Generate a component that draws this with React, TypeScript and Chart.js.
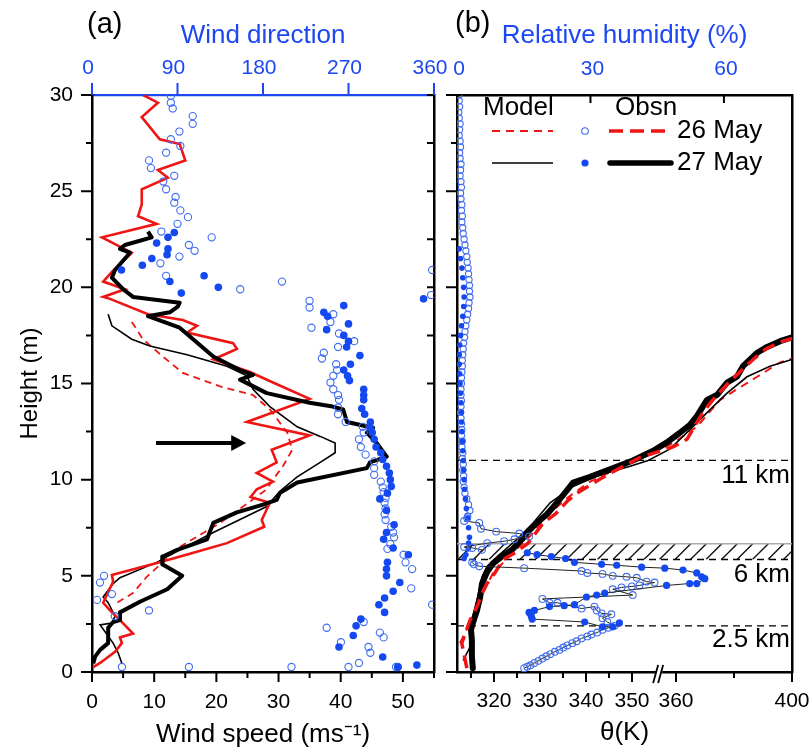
import React, { useEffect, useRef } from 'react';
import { Chart, registerables } from 'chart.js';

Chart.register(...registerables);

const FONT = "'Liberation Sans', Arial, Helvetica, sans-serif";
const BLUE = '#1c47f2';
const BLUE_PT = '#1448f0';
const BLUE_OPEN = '#3f6cf0';
const RED = '#f01515';

// ---------- Panel (a): wind speed (m/s) vs height ----------
const obs26Speed: [number, number][] = [
  [8.2, 30], [10.6, 29.6], [8.0, 28.85], [10.9, 27.7], [14.1, 27.45], [15, 26.6], [10.6, 26.1], [12.2, 25.7],
  [8.0, 25.1], [8.0, 24.3], [7.4, 23.7], [10.4, 23.3], [1.6, 22.6], [6.4, 21.8], [3.2, 20.8], [1.8, 20.3],
  [5.3, 19.9], [1.8, 19.5], [2.9, 19.4], [9.0, 18.6], [14.6, 18.3], [16.9, 18.0], [15.3, 17.65], [22.7, 17.1],
  [23.3, 16.8], [19.5, 16.25], [25.4, 15.6], [29.1, 15.05], [35.0, 14.2], [24.9, 13.0], [35.0, 12.3], [28.9, 11.55],
  [29.7, 10.9], [26.5, 10.35], [29.1, 9.9], [26.5, 9.5], [25.5, 9.1], [28.6, 8.8], [27.3, 7.9], [27.7, 7.55],
  [21.7, 6.7], [16.3, 6.2], [10.9, 5.7], [3.2, 5.05], [3.4, 4.7], [1.8, 3.6], [2.9, 3.2], [4.5, 2.7],
  [6.6, 2.0], [4.5, 1.8], [4.8, 1.5], [3.7, 1.05], [1.3, 0.47], [0.2, 0.25]
];
const obs27Speed: [number, number][] = [
  [9.0, 22.9], [9.6, 22.6], [5.3, 22.2], [4.5, 22.0], [6.1, 21.8], [5.3, 21.5], [3.7, 20.9], [3.2, 20.5],
  [5.0, 19.9], [6.6, 19.5], [14.1, 19.2], [13.8, 19.0], [12.5, 18.7], [9.0, 18.5], [14.1, 17.9], [19.5, 16.4],
  [23.8, 15.7], [25.9, 15.45], [23.8, 15.2], [28.1, 14.5], [35.0, 14.0], [38.7, 13.8], [40.4, 13.65], [41.0, 13.0],
  [45.2, 12.7], [44.2, 12.45], [45.8, 11.9], [47.4, 11.2], [44.7, 10.9], [44.2, 10.6], [33.0, 9.85], [30.2, 9.3],
  [29.7, 8.95], [27.5, 8.7], [23.3, 8.3], [19.5, 7.75], [18.5, 6.9], [13.7, 6.35], [11.4, 6.0], [11.3, 5.6],
  [14.5, 5.0], [12.1, 4.3], [7.7, 3.65], [4.5, 3.1], [4.5, 2.7], [3.4, 2.6], [2.6, 2.3], [2.6, 1.5],
  [1.3, 1.15], [0.5, 0.8], [0.2, 0.45]
];
const model27Speed: [number, number][] = [
  [2.6, 18.6], [3.2, 18.0], [6.4, 17.3], [9.3, 16.95], [15.3, 16.5], [21.7, 15.9], [24.9, 15.4], [25.9, 14.7],
  [28.6, 13.8], [33.0, 12.75], [36.7, 12.25], [39.1, 11.9], [39.1, 11.4], [36.7, 10.9], [33.0, 10.15], [30.2, 9.4],
  [28.1, 8.6], [19.5, 7.25], [14.1, 6.35], [10.4, 5.7], [4.5, 4.9], [3.4, 4.6], [1.8, 3.9], [2.6, 3.6],
  [3.7, 2.9], [3.2, 2.55], [1.3, 2.45], [2.3, 2.0], [3.4, 1.5], [4.2, 1.0], [4.8, 0.45]
];
const model26Speed: [number, number][] = [
  [6.4, 18.2], [8.2, 17.3], [11.4, 16.4], [14.6, 15.55], [20.6, 14.85], [25.9, 14.4], [28.6, 13.65], [31.4, 12.45],
  [32.2, 11.55], [30.7, 10.7], [29.1, 10.0], [28.1, 9.5], [24.3, 8.6], [20.6, 7.75], [14.1, 6.5], [8.8, 4.95],
  [6.6, 4.1], [4.0, 3.6]
];
// wind direction (deg) vs height
const dir26: [number, number][] = [
  [83, 29.95], [83, 29.6], [85, 29.3], [106, 28.9], [106, 28.5], [92, 28.1], [83, 27.7], [93, 27.35], [78, 27.0],
  [60, 26.6], [62, 26.2], [86.6, 25.8], [75, 25.5], [78, 25.1], [88, 24.7], [86.6, 24.4], [93, 24.0], [101, 23.65],
  [90, 23.3], [73, 22.9], [126, 22.6], [102, 22.2], [108, 21.9], [92, 21.6], [72, 21.25], [78, 20.6], [156, 19.9],
  [200, 20.3], [229, 19.3], [358, 20.9], [357, 19.6], [229, 18.95], [254, 18.6], [251, 18.2], [231, 17.9], [260, 17.6],
  [276, 17.2], [259, 16.9], [244, 16.6], [242, 16.3], [257, 16.0], [258, 15.7], [254, 15.4], [251, 15.05], [254, 14.7],
  [259, 14.4], [260, 14.15], [259, 13.75], [259, 13.4], [267, 13.0], [285, 12.75], [286, 12.45], [281, 12.1], [283, 11.7],
  [288, 11.3], [297, 10.95], [297, 10.6], [297, 10.25], [304, 9.9], [306, 9.6], [307, 9.35], [309, 9.05], [308, 8.8],
  [309, 8.5], [308, 8.2], [309, 7.9], [315, 7.55], [317, 7.25], [318, 7.0], [314, 6.65], [311, 6.4], [328, 6.1],
  [330, 5.7], [337, 5.35], [336, 4.35], [358, 3.5], [286, 2.6], [247, 2.3], [303, 2.05], [307, 1.8], [262, 1.55],
  [291, 1.3], [293, 1.0], [281, 0.47], [270, 0.26], [322, 0.26], [320, 0.26], [210, 0.26], [102, 0.26], [31.5, 0.26],
  [12.7, 5.0], [8.4, 4.65], [5.3, 3.75], [21, 4.05], [24, 2.9], [60, 3.2]
];
const dir27: [number, number][] = [
  [86.6, 22.85], [80, 22.6], [68, 22.3], [80, 22.0], [79, 21.7], [63, 21.5], [53, 21.15], [31, 20.9], [82, 20.3],
  [118, 20.6], [133, 20.0], [94, 19.7], [265, 19.05], [349, 19.4], [244, 18.7], [248, 18.5], [270, 18.1], [247, 17.8],
  [265, 17.5], [270, 17.2], [268, 16.9], [282, 16.45], [272, 16.0], [265, 15.7], [269, 15.4], [271, 15.15], [286, 14.7],
  [286, 14.4], [286, 14.15], [284, 13.7], [287, 13.4], [293, 13.0], [293, 12.7], [295, 12.45], [297, 12.1], [299, 11.7],
  [304, 11.4], [306, 11.05], [310, 10.7], [313, 10.35], [314, 10.0], [315, 9.65], [311, 9.3], [303, 9.0], [310, 8.4],
  [318, 7.65], [310, 7.25], [307, 6.9], [317, 6.45], [333, 6.1], [311, 5.7], [310, 5.35], [310, 5.0], [324, 4.65],
  [317, 4.2], [308, 3.85], [302, 3.5], [308, 3.1], [283, 2.75], [278, 2.4], [275, 1.9], [260, 1.3], [306, 0.78],
  [342, 0.36], [322, 0.26]
];

// ---------- Panel (b): potential temperature (K) vs height ----------
const obs27Theta: [number, number][] = [
  [315.4, 0.2], [315.2, 0.8], [315.2, 1.65], [315, 2.2], [315.4, 2.55], [316.3, 3.2], [317, 3.9], [317.4, 4.6],
  [318.5, 5.2], [319.8, 5.65], [321.7, 6.0], [323.9, 6.35], [326.1, 6.9], [327.4, 7.3], [329.3, 7.75], [331.5, 8.2],
  [333.7, 8.8], [337.2, 9.85], [340.9, 10.15], [345.9, 10.6], [350.2, 11.0], [354.6, 11.5], [357, 11.95], [361, 12.4],
  [364.8, 12.85], [367.2, 13.3], [370.7, 14.15], [374.1, 14.4], [377.6, 15.05], [381, 15.35], [383.1, 15.9], [388, 16.6],
  [391.4, 16.9], [395.9, 17.2], [400, 17.4]
];
const obs26Theta: [number, number][] = [
  [314.1, 0.2], [313.5, 0.9], [313, 1.5], [314.8, 2.7], [316.5, 3.5], [317.4, 4.1], [318.5, 4.6], [320.2, 5.15],
  [322, 5.85], [324.6, 6.2], [327.4, 6.7], [329.3, 7.3], [330.7, 7.75], [333.3, 8.2], [336, 8.9], [338.7, 9.4],
  [344.6, 10.25], [351.7, 11.15], [359, 11.7], [363.8, 12.1], [369.3, 13.5], [373, 14.2], [377.6, 14.95], [382, 15.6],
  [386.6, 16.25], [391, 16.8], [395.9, 17.15], [400, 17.35]
];
const model27Theta: [number, number][] = [
  [313.3, 0.6], [314.8, 1.3], [314.8, 2.35], [316.3, 3.75], [317.4, 4.95], [318.5, 5.5], [320.7, 6.0], [325, 6.9],
  [328.5, 7.75], [332.2, 8.8], [337.2, 9.65], [343, 10.25], [349.6, 10.7], [353.5, 11.0], [358, 11.6], [364.8, 12.6],
  [372.8, 13.8], [377.6, 14.5], [384.5, 15.35], [392.4, 15.9], [400, 16.25]
];
const model26Theta: [number, number][] = [
  [312.6, 1.5], [315.4, 2.85], [317.6, 4.1], [319.8, 5.15], [324.1, 6.2], [327.8, 7.05], [331.5, 8.1], [335.9, 9.05],
  [340.9, 9.9], [348.9, 10.8], [354.6, 11.4], [359, 11.9], [367.2, 12.75], [375.2, 14.15], [381, 14.7], [388, 15.35],
  [395.9, 16.1], [400, 16.3]
];
// relative humidity (%) vs height
const rh26Column: [number, number][] = [
  [0.4, 30.0], [0.5, 29.7], [0.6, 29.4], [0.4, 29.1], [0.5, 28.8], [0.7, 28.5], [0.6, 28.2], [0.5, 27.9], [0.7, 27.6],
  [0.8, 27.3], [0.6, 27.0], [0.7, 26.7], [0.9, 26.4], [0.8, 26.1], [0.7, 25.8], [0.9, 25.5], [1.0, 25.2], [0.8, 24.9],
  [0.9, 24.6], [1.1, 24.3], [1.0, 24.0], [1.2, 23.7], [1.1, 23.4], [1.3, 23.1], [1.4, 22.8], [1.6, 22.5], [1.8, 22.2],
  [2.0, 21.9], [2.2, 21.6], [2.3, 21.3], [2.5, 21.0], [2.6, 20.7], [2.7, 20.4], [2.8, 20.1], [2.8, 19.8], [2.9, 19.5],
  [2.7, 19.2], [2.6, 18.9], [2.4, 18.6], [2.2, 18.3], [2.0, 18.0], [1.8, 17.7], [1.7, 17.4], [1.5, 17.1], [1.4, 16.8],
  [1.3, 16.5], [1.2, 16.2], [1.2, 15.9], [1.1, 15.6], [1.0, 15.3], [1.0, 15.0], [0.9, 14.7], [0.9, 14.4], [1.0, 14.1],
  [0.9, 13.8], [0.8, 13.5], [0.9, 13.2], [1.0, 12.9], [1.1, 12.6], [1.0, 12.3], [1.2, 12.0], [1.1, 11.7], [1.3, 11.4],
  [1.2, 11.1], [1.4, 10.8], [1.3, 10.5], [1.5, 10.2], [1.4, 9.9], [1.6, 9.6], [1.8, 9.3], [2.2, 9.0], [2.6, 8.7],
  [2.9, 8.4], [2.4, 8.1]
];
const rh26Lower: [number, number][] = [
  [2.3, 8.0], [1.6, 7.85], [5.0, 7.75], [5.4, 7.45], [8.8, 7.3], [14.0, 7.2], [16.2, 7.05], [12.9, 6.9], [10.6, 6.8],
  [6.8, 6.7], [1.6, 6.5], [3.4, 6.45], [5.6, 6.35], [3.4, 5.7], [3.8, 5.6], [5.0, 5.5], [15.1, 5.4], [28.0, 5.25],
  [29.3, 5.15], [32.7, 5.1], [35.0, 5.0], [38.1, 4.95], [40.4, 4.9], [42.6, 4.7], [44.4, 4.65], [41.0, 4.5], [39.3, 4.45],
  [37.0, 4.4], [35.0, 4.3], [39.5, 4.0], [19.2, 3.8], [20.8, 3.6], [22.6, 3.6], [28.0, 3.3], [30.9, 3.4], [31.4, 3.2],
  [32.5, 3.05], [34.7, 3.0], [32.7, 2.8], [33.8, 2.6], [35.4, 2.4], [34.0, 2.3], [32.7, 2.2], [31.5, 2.05], [30.2, 1.95],
  [29.3, 1.85], [28.0, 1.75], [26.9, 1.6], [25.9, 1.5], [24.8, 1.38], [23.9, 1.27], [23.0, 1.15], [22.0, 1.05],
  [21.0, 0.93], [20.1, 0.82], [19.2, 0.7], [18.3, 0.58], [17.4, 0.47], [16.5, 0.35], [15.8, 0.27], [15.1, 0.2]
];
const rh27Column: [number, number][] = [
  [0.5, 22.0], [0.8, 21.5], [1.1, 21.0], [1.3, 20.5], [1.5, 20.0], [1.6, 19.5], [1.5, 19.0], [1.3, 18.5], [1.0, 18.0],
  [0.8, 17.5], [0.6, 17.0], [0.5, 16.5], [0.5, 16.0], [0.6, 15.5], [0.7, 15.0], [0.8, 14.5], [0.9, 14.0], [1.0, 13.5],
  [1.0, 13.0], [1.1, 12.5], [1.2, 12.0], [1.3, 11.5], [1.4, 11.0], [1.5, 10.5], [1.6, 10.0], [1.7, 9.5], [1.9, 9.0],
  [2.1, 8.5], [2.4, 8.0], [2.6, 7.5], [2.8, 7.0], [2.6, 6.7], [2.5, 6.4], [2.0, 6.1], [1.6, 5.9]
];
const rh27Lower: [number, number][] = [
  [15.8, 6.2], [18, 6.1], [21.2, 6.0], [24.4, 5.9], [26.4, 5.7], [32.5, 5.6], [35.9, 5.55], [41.5, 5.45], [46.7, 5.4],
  [50.8, 5.3], [53.9, 5.15], [55, 4.95], [55.7, 4.85], [53.9, 4.6], [52.3, 4.6], [47.1, 4.5], [33.2, 4.1], [31.4, 4.0],
  [29.1, 3.9], [26.4, 3.5], [24.1, 3.45], [20.8, 3.4], [17.4, 3.2], [16.2, 3.1], [16.7, 2.9], [16.9, 2.75], [28.7, 2.6],
  [32.7, 2.35], [35, 2.35], [36.5, 2.55]
];

// ---------- ticks ----------
const speedTicks = [0, 10, 20, 30, 40, 50];
const speedMinor = [5, 15, 25, 35, 45, 55];
const dirTicks = [0, 90, 180, 270, 360];
const heightTicks = [0, 5, 10, 15, 20, 25, 30];
const heightMinor = [2.5, 7.5, 12.5, 17.5, 22.5, 27.5];
const thetaTicks = [315, 320, 325, 330, 335, 340, 345, 350, 360, 380, 400];
const thetaLabels = ['', '320', '', '330', '', '340', '', '350', '360', '', '400'];
const rhTicks = [0, 30, 60];
// reference levels (km) and annotation
const refLevels = [11, 5.85, 2.4];
const refLabels = ['11 km', '6 km', '2.5 km'];
const refLabelHeights = [10.2, 5.05, 1.67];
const hatchBand = [5.85, 6.67];
const arrowFrom: [number, number] = [10.3, 11.9];
const arrowTo: [number, number] = [24.8, 11.9];

// broken theta axis: 312-355.5 K at full scale, 355.5-400 K compressed
function thetaToAxis(t: number): number {
  return t <= 355.5 ? t : 359.565 + (t - 360) * 0.6304;
}
const THETA_MIN = 311.96;
const THETA_MAX = thetaToAxis(400);
const BREAK_AT = 355.9;

const pts = (arr: [number, number][]) => arr.map(([x, y]) => ({ x, y }));
const thetaPts = (arr: [number, number][]) => arr.map(([t, y]) => ({ x: thetaToAxis(t), y }));

function tickH(ctx: any, scale: any, vals: number[], y0: number, len: number, color: string, w: number) {
  ctx.save();
  ctx.strokeStyle = color;
  ctx.lineWidth = w;
  ctx.beginPath();
  for (const v of vals) {
    const x = scale.getPixelForValue(v);
    ctx.moveTo(x, y0);
    ctx.lineTo(x, y0 + len);
  }
  ctx.stroke();
  ctx.restore();
}
function tickV(ctx: any, scale: any, vals: number[], x0: number, len: number, color: string, w: number) {
  ctx.save();
  ctx.strokeStyle = color;
  ctx.lineWidth = w;
  ctx.beginPath();
  for (const v of vals) {
    const y = scale.getPixelForValue(v);
    ctx.moveTo(x0, y);
    ctx.lineTo(x0 + len, y);
  }
  ctx.stroke();
  ctx.restore();
}

const tickFont = { family: FONT, size: 21 };
const titleFont = { family: FONT, size: 26, lineHeight: 1 };

function fixSize(prop: 'width' | 'height', size: number) {
  return (s: any) => {
    s[prop] = size;
    s.paddingLeft = 0;
    s.paddingRight = 0;
    s.paddingTop = 0;
    s.paddingBottom = 0;
  };
}

function baseScale(extra: any) {
  return {
    type: 'linear',
    grid: { display: false, drawTicks: false },
    border: { display: true, color: '#000', width: 2.5 },
    ...extra,
  };
}

export default function App() {
  const refA = useRef<HTMLCanvasElement>(null);
  const refB = useRef<HTMLCanvasElement>(null);

  useEffect(() => {
    const decoA = {
      id: 'decoA',
      afterDraw(chart: any) {
        const { ctx, chartArea: ca, scales } = chart;
        tickH(ctx, scales.x, speedTicks, ca.bottom, 10, '#000', 2);
        tickH(ctx, scales.x, speedMinor, ca.bottom, 6, '#000', 2);
        tickV(ctx, scales.y, heightTicks, ca.left, -11, '#000', 2);
        tickV(ctx, scales.y, heightMinor, ca.left, -6, '#000', 2);
        tickV(ctx, scales.y, heightTicks.concat(heightMinor), ca.right, -7, '#000', 2);
        tickH(ctx, scales.x2, dirTicks, ca.top, -12, BLUE, 2);
        // arrow
        const x0 = scales.x.getPixelForValue(arrowFrom[0]);
        const x1 = scales.x.getPixelForValue(arrowTo[0]);
        const y = scales.y.getPixelForValue(arrowFrom[1]);
        ctx.save();
        ctx.strokeStyle = '#000';
        ctx.fillStyle = '#000';
        ctx.lineWidth = 4;
        ctx.beginPath();
        ctx.moveTo(x0, y);
        ctx.lineTo(x1 - 12, y);
        ctx.stroke();
        ctx.beginPath();
        ctx.moveTo(x1, y);
        ctx.lineTo(x1 - 15, y - 8);
        ctx.lineTo(x1 - 15, y + 8);
        ctx.closePath();
        ctx.fill();
        ctx.font = `29px ${FONT}`;
        ctx.textBaseline = 'middle';
        ctx.textAlign = 'left';
        ctx.fillText('(a)', 87, 25);
        ctx.restore();
      },
    };

    const decoB = {
      id: 'decoB',
      beforeDatasetsDraw(chart: any) {
        const { ctx, chartArea: ca, scales } = chart;
        const yS = scales.y;
        ctx.save();
        const yt = yS.getPixelForValue(hatchBand[1]);
        const yb = yS.getPixelForValue(hatchBand[0]);
        ctx.beginPath();
        ctx.rect(ca.left, yt, ca.right - ca.left, yb - yt);
        ctx.clip();
        ctx.strokeStyle = '#111';
        ctx.lineWidth = 1.4;
        ctx.beginPath();
        for (let x = ca.left - 30; x < ca.right + 30; x += 15.5) {
          ctx.moveTo(x, yb);
          ctx.lineTo(x + (yb - yt), yt);
        }
        ctx.stroke();
        ctx.restore();
        ctx.save();
        ctx.strokeStyle = '#aaaaaa';
        ctx.lineWidth = 1.5;
        ctx.beginPath();
        ctx.moveTo(ca.left, yt);
        ctx.lineTo(ca.right, yt);
        ctx.stroke();
        ctx.setLineDash([7, 5]);
        ctx.strokeStyle = '#000';
        ctx.lineWidth = 1.3;
        ctx.beginPath();
        for (const h of refLevels) {
          const y = yS.getPixelForValue(h);
          ctx.moveTo(ca.left, y);
          ctx.lineTo(ca.right, y);
        }
        ctx.stroke();
        ctx.restore();
      },
      afterDraw(chart: any) {
        const { ctx, chartArea: ca, scales } = chart;
        tickH(ctx, scales.x, thetaTicks.filter((_, i) => thetaLabels[i] !== '').map(thetaToAxis), ca.bottom, 10, '#000', 2);
        tickH(ctx, scales.x, thetaTicks.filter((_, i) => thetaLabels[i] === '').map(thetaToAxis), ca.bottom, 6, '#000', 2);
        tickV(ctx, scales.y, heightTicks, ca.left, -11, '#000', 2);
        tickV(ctx, scales.y, heightMinor, ca.left, -6, '#000', 2);
        tickH(ctx, scales.x2, rhTicks.slice(1), ca.top, 8, '#000', 2);
        // axis break
        const bx = scales.x.getPixelForValue(BREAK_AT);
        ctx.save();
        ctx.fillStyle = '#fff';
        ctx.fillRect(bx - 3, ca.bottom - 3, 6, 6);
        ctx.strokeStyle = '#000';
        ctx.lineWidth = 1.8;
        ctx.beginPath();
        ctx.moveTo(bx - 6, ca.bottom + 11);
        ctx.lineTo(bx - 1, ca.bottom - 7);
        ctx.moveTo(bx - 1, ca.bottom + 11);
        ctx.lineTo(bx + 4, ca.bottom - 7);
        ctx.stroke();
        ctx.restore();
        // level labels
        ctx.save();
        ctx.fillStyle = '#000';
        ctx.font = `26px ${FONT}`;
        ctx.textAlign = 'right';
        ctx.textBaseline = 'middle';
        refLabels.forEach((t, i) => ctx.fillText(t, ca.right - 2, scales.y.getPixelForValue(refLabelHeights[i])));
        // legend
        ctx.textAlign = 'left';
        ctx.fillText('Model', 43, 108);
        ctx.fillText('Obsn', 175, 108);
        ctx.fillText('26 May', 237, 131);
        ctx.fillText('27 May', 237, 163);
        ctx.strokeStyle = RED;
        ctx.lineWidth = 2;
        ctx.setLineDash([8, 6]);
        ctx.beginPath(); ctx.moveTo(52, 131); ctx.lineTo(113, 131); ctx.stroke();
        ctx.lineWidth = 3.5;
        ctx.setLineDash([14, 7]);
        ctx.beginPath(); ctx.moveTo(169, 131); ctx.lineTo(232, 131); ctx.stroke();
        ctx.setLineDash([]);
        ctx.strokeStyle = '#000';
        ctx.lineWidth = 1.6;
        ctx.beginPath(); ctx.moveTo(52, 163); ctx.lineTo(113, 163); ctx.stroke();
        ctx.lineWidth = 5.5;
        ctx.lineCap = 'round';
        ctx.beginPath(); ctx.moveTo(170, 163); ctx.lineTo(231, 163); ctx.stroke();
        ctx.lineCap = 'butt';
        ctx.strokeStyle = BLUE_OPEN;
        ctx.lineWidth = 1.1;
        ctx.beginPath(); ctx.arc(145, 131, 3.3, 0, Math.PI * 2); ctx.stroke();
        ctx.fillStyle = BLUE_PT;
        ctx.beginPath(); ctx.arc(145, 163, 3.6, 0, Math.PI * 2); ctx.fill();
        ctx.fillStyle = '#000';
        ctx.font = `29px ${FONT}`;
        ctx.fillText('(b)', 15, 24);
        ctx.restore();
      },
    };

    const common = {
      responsive: false,
      animation: false,
      events: [],
      layout: { padding: 0 },
      plugins: { legend: { display: false }, tooltip: { enabled: false } },
      elements: { line: { tension: 0 } },
    };

    const chartA = new Chart(refA.current as HTMLCanvasElement, {
      type: 'scatter',
      data: {
        datasets: [
          { data: pts(dir27), xAxisID: 'x2', yAxisID: 'y', showLine: false, pointRadius: 3.8, pointBackgroundColor: BLUE_PT, pointBorderColor: BLUE_PT, pointBorderWidth: 0 },
          { data: pts(dir26), xAxisID: 'x2', yAxisID: 'y', showLine: false, pointRadius: 3.6, pointBackgroundColor: 'rgba(255,255,255,0)', pointBorderColor: BLUE_OPEN, pointBorderWidth: 1.1 },
          { data: pts(obs27Speed), xAxisID: 'x', yAxisID: 'y', showLine: true, borderColor: '#000', borderWidth: 4, pointRadius: 0, borderJoinStyle: 'round' },
          { data: pts(obs26Speed), xAxisID: 'x', yAxisID: 'y', showLine: true, borderColor: RED, borderWidth: 2.6, pointRadius: 0 },
          { data: pts(model27Speed), xAxisID: 'x', yAxisID: 'y', showLine: true, borderColor: '#000', borderWidth: 1.6, pointRadius: 0 },
          { data: pts(model26Speed), xAxisID: 'x', yAxisID: 'y', showLine: true, borderColor: RED, borderWidth: 1.8, borderDash: [7, 5], pointRadius: 0 },
        ],
      } as any,
      options: {
        ...common,
        scales: {
          x: baseScale({
            position: 'bottom', min: 0, max: 55,
            afterBuildTicks: (s: any) => { s.ticks = speedTicks.map((v) => ({ value: v })); },
            afterFit: fixSize('height', 77),
            ticks: { font: tickFont, color: '#000', padding: 18, autoSkip: false, maxRotation: 0 },
            title: { display: true, text: 'Wind speed (ms⁻¹)', font: titleFont, color: '#000', padding: { top: 0, bottom: 1 } },
          }),
          x2: baseScale({
            position: 'top', min: 0, max: 360,
            afterBuildTicks: (s: any) => { s.ticks = dirTicks.map((v) => ({ value: v })); },
            afterFit: fixSize('height', 95),
            border: { display: true, color: BLUE, width: 2.2 },
            ticks: { font: tickFont, color: BLUE, padding: 14, autoSkip: false, maxRotation: 0, labelOffset: -4 },
            title: { display: true, text: 'Wind direction', font: titleFont, color: BLUE, padding: { top: 23, bottom: 0 } },
          }),
          y: baseScale({
            position: 'left', min: 0, max: 30,
            afterBuildTicks: (s: any) => { s.ticks = heightTicks.map((v) => ({ value: v })); },
            afterFit: fixSize('width', 92),
            ticks: { font: tickFont, color: '#000', padding: 19, autoSkip: false },
            title: { display: true, text: 'Height (m)', font: { family: FONT, size: 24, lineHeight: 1 }, color: '#000', padding: { top: 18, bottom: 0 } },
          }),
          y2: baseScale({
            position: 'right', min: 0, max: 30,
            afterFit: fixSize('width', 18),
            ticks: { display: false },
          }),
        },
      } as any,
      plugins: [decoA],
    });

    const chartB = new Chart(refB.current as HTMLCanvasElement, {
      type: 'scatter',
      data: {
        datasets: [
          { data: pts(rh27Lower), xAxisID: 'x2', yAxisID: 'y', showLine: true, borderColor: '#222', borderWidth: 1, pointRadius: 3.6, pointBackgroundColor: BLUE_PT, pointBorderColor: BLUE_PT, pointBorderWidth: 0 },
          { data: pts(rh26Lower), xAxisID: 'x2', yAxisID: 'y', showLine: true, borderColor: '#222', borderWidth: 1, pointRadius: 3.4, pointBackgroundColor: 'rgba(255,255,255,0)', pointBorderColor: BLUE_OPEN, pointBorderWidth: 1.1 },
          { data: pts(rh27Column), xAxisID: 'x2', yAxisID: 'y', showLine: false, pointRadius: 2.8, pointBackgroundColor: BLUE_PT, pointBorderColor: BLUE_PT, pointBorderWidth: 0 },
          { data: pts(rh26Column), xAxisID: 'x2', yAxisID: 'y', showLine: false, pointRadius: 3.1, pointBackgroundColor: 'rgba(255,255,255,0)', pointBorderColor: BLUE_OPEN, pointBorderWidth: 1.1 },
          { data: thetaPts(obs26Theta), xAxisID: 'x', yAxisID: 'y', showLine: true, borderColor: RED, borderWidth: 3.5, borderDash: [13, 7], pointRadius: 0 },
          { data: thetaPts(obs27Theta), xAxisID: 'x', yAxisID: 'y', showLine: true, borderColor: '#000', borderWidth: 6, pointRadius: 0, borderJoinStyle: 'round', borderCapStyle: 'round' },
          { data: thetaPts(model27Theta), xAxisID: 'x', yAxisID: 'y', showLine: true, borderColor: '#000', borderWidth: 1.6, pointRadius: 0 },
          { data: thetaPts(model26Theta), xAxisID: 'x', yAxisID: 'y', showLine: true, borderColor: RED, borderWidth: 2, borderDash: [8, 6], pointRadius: 0 },
        ],
      } as any,
      options: {
        ...common,
        scales: {
          x: baseScale({
            position: 'bottom', min: THETA_MIN, max: THETA_MAX,
            afterBuildTicks: (s: any) => { s.ticks = thetaTicks.map((t) => ({ value: thetaToAxis(t) })); },
            afterFit: fixSize('height', 77),
            ticks: { font: tickFont, color: '#000', padding: 17, autoSkip: false, maxRotation: 0, callback: (_v: any, i: number) => thetaLabels[i] },
            title: { display: true, text: 'θ(K)', font: titleFont, color: '#000', padding: { top: 0, bottom: 3 } },
          }),
          x2: baseScale({
            position: 'top', min: 0, max: 75.3,
            afterBuildTicks: (s: any) => { s.ticks = rhTicks.map((v) => ({ value: v })); },
            afterFit: fixSize('height', 95),
            ticks: { font: tickFont, color: BLUE, padding: 13, autoSkip: false, maxRotation: 0, labelOffset: 2 },
            title: { display: true, text: 'Relative humidity (%)', font: titleFont, color: BLUE, padding: { top: 23, bottom: 0 } },
          }),
          y: baseScale({
            position: 'left', min: 0, max: 30,
            afterFit: fixSize('width', 17),
            ticks: { display: false },
          }),
          y2: baseScale({
            position: 'right', min: 0, max: 30,
            afterFit: fixSize('width', 18),
            ticks: { display: false },
          }),
        },
      } as any,
      plugins: [decoB],
    });

    return () => {
      chartA.destroy();
      chartB.destroy();
    };
  }, []);

  return (
    <div style={{ position: 'absolute', left: 0, top: 0, width: 810, height: 749, background: '#fff' }}>
      <canvas ref={refA} width={452} height={749} style={{ position: 'absolute', left: 0, top: 0 }} />
      <canvas ref={refB} width={370} height={749} style={{ position: 'absolute', left: 440, top: 0 }} />
    </div>
  );
}
